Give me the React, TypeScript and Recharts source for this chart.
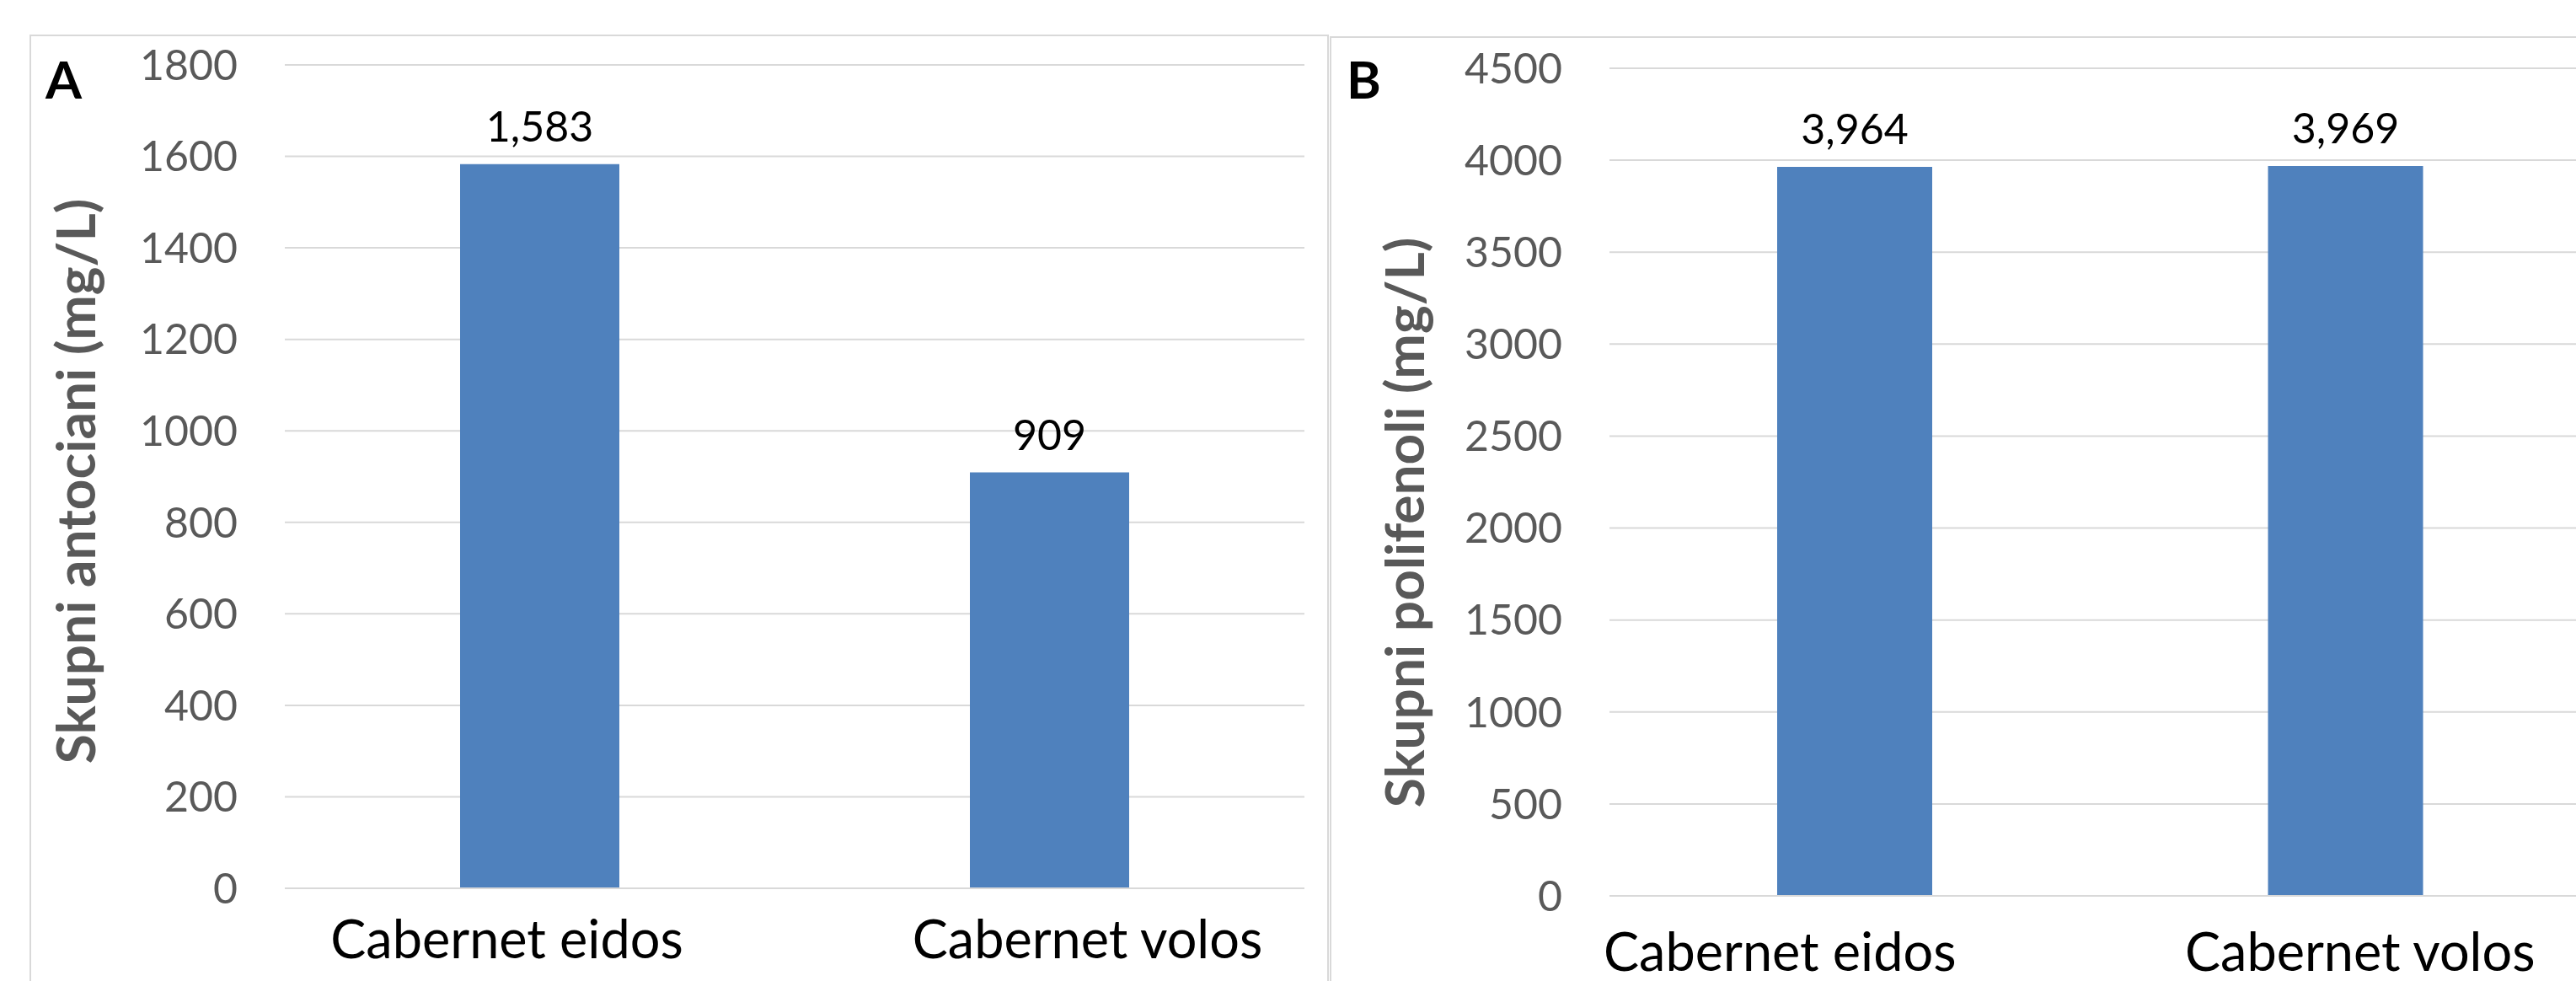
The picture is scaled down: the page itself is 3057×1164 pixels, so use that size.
import { BarChart, Bar, XAxis, YAxis, CartesianGrid, LabelList } from "recharts"

const varieties = ["Cabernet eidos", "Cabernet volos"]
const anthocyanins = [1583, 909]
const polyphenols = [3964, 3969]
const anthocyaninTicks = [0, 200, 400, 600, 800, 1000, 1200, 1400, 1600, 1800]
const polyphenolTicks = [0, 500, 1000, 1500, 2000, 2500, 3000, 3500, 4000, 4500]

const BAR_BLUE = "#4F81BD"
const GRID_GREY = "#D9D9D9"
const TEXT_GREY = "#595959"
const FONT = "Lato, 'Noto Sans', sans-serif"

interface PanelProps {
  letter: string
  title: string
  values: number[]
  ticks: number[]
  left: number
  width: number
  margin: { top: number; right: number; bottom: number; left: number }
  axisWidth: number
  axisHeight: number
  barSize: number
  catMargin: number
  labelShift: number[]
  letterPos: { x: number; y: number }
  titlePos: { x: number; y: number }
}

function CategoryTick(props: any) {
  const { x, y, payload, index, shifts } = props
  const i = payload?.index ?? index ?? 0
  return (
    <text
      x={x + (shifts[i] ?? 0)}
      y={y}
      dy="0.72em"
      textAnchor="middle"
      fill="#000000"
      fontSize={63}
      fontFamily={FONT}
    >
      {payload.value}
    </text>
  )
}

function Panel(p: PanelProps) {
  const data = varieties.map((name, i) => ({ name, value: p.values[i] }))
  const height = 1164
  return (
    <div style={{ position: "absolute", left: p.left, top: 0 }}>
      <BarChart width={p.width} height={height} data={data} margin={p.margin}>
        <CartesianGrid vertical={false} stroke={GRID_GREY} strokeWidth={2} />
        <XAxis
          dataKey="name"
          height={p.axisHeight}
          axisLine={{ stroke: GRID_GREY, strokeWidth: 2 }}
          tickLine={false}
          tickSize={0}
          tickMargin={p.catMargin}
          interval={0}
          tick={<CategoryTick shifts={p.labelShift} />}
        />
        <YAxis
          width={p.axisWidth}
          domain={[p.ticks[0], p.ticks[p.ticks.length - 1]]}
          ticks={p.ticks}
          interval={0}
          axisLine={false}
          tickLine={false}
          tickSize={0}
          tickMargin={56}
          tick={{ fill: TEXT_GREY, fontSize: 50, fontFamily: FONT }}
          label={{
            content: () => (
              <g>
                <text
                  x={p.letterPos.x}
                  y={p.letterPos.y}
                  fontSize={62}
                  fontWeight={700}
                  fill="#000000"
                  fontFamily={FONT}
                >
                  {p.letter}
                </text>
                <text
                  x={p.titlePos.x}
                  y={p.titlePos.y}
                  transform={`rotate(-90, ${p.titlePos.x}, ${p.titlePos.y})`}
                  textAnchor="middle"
                  dominantBaseline="central"
                  fontSize={64}
                  fontWeight={700}
                  fill={TEXT_GREY}
                  fontFamily={FONT}
                >
                  {p.title}
                </text>
              </g>
            ),
          }}
        />
        <Bar dataKey="value" fill={BAR_BLUE} barSize={p.barSize} isAnimationActive={false}>
          <LabelList
            dataKey="value"
            position="top"
            offset={27}
            fill="#000000"
            fontSize={50}
            fontFamily={FONT}
            formatter={(v: any) => Number(v).toLocaleString("en-US")}
          />
        </Bar>
      </BarChart>
    </div>
  )
}

export default function App() {
  return (
    <div
      style={{
        position: "absolute",
        left: 0,
        top: 0,
        width: 3057,
        height: 1164,
        overflow: "hidden",
        background: "#ffffff",
        fontFamily: FONT,
      }}
    >
      {/* panel frames */}
      <div
        style={{
          position: "absolute",
          left: 35,
          top: 41,
          width: 1542,
          height: 1300,
          border: `2px solid ${GRID_GREY}`,
          boxSizing: "border-box",
        }}
      />
      <div
        style={{
          position: "absolute",
          left: 1578,
          top: 43,
          width: 1600,
          height: 1300,
          border: `2px solid ${GRID_GREY}`,
          boxSizing: "border-box",
        }}
      />
      <Panel
        letter="A"
        title="Skupni antociani (mg/L)"
        values={anthocyanins}
        ticks={anthocyaninTicks}
        left={0}
        width={1576}
        margin={{ top: 77, right: 28, bottom: 0, left: 36 }}
        axisWidth={302}
        axisHeight={110}
        barSize={189}
        catMargin={38}
        labelShift={[-39, 45]}
        letterPos={{ x: 54, y: 117 }}
        titlePos={{ x: 88, y: 571 }}
      />
      <Panel
        letter="B"
        title="Skupni polifenoli (mg/L)"
        values={polyphenols}
        ticks={polyphenolTicks}
        left={1579}
        width={1500}
        margin={{ top: 81, right: 4, bottom: 0, left: 0 }}
        axisWidth={331}
        axisHeight={101}
        barSize={184}
        catMargin={44}
        labelShift={[-89, 17]}
        letterPos={{ x: 19, y: 117 }}
        titlePos={{ x: 86, y: 620 }}
      />
    </div>
  )
}
